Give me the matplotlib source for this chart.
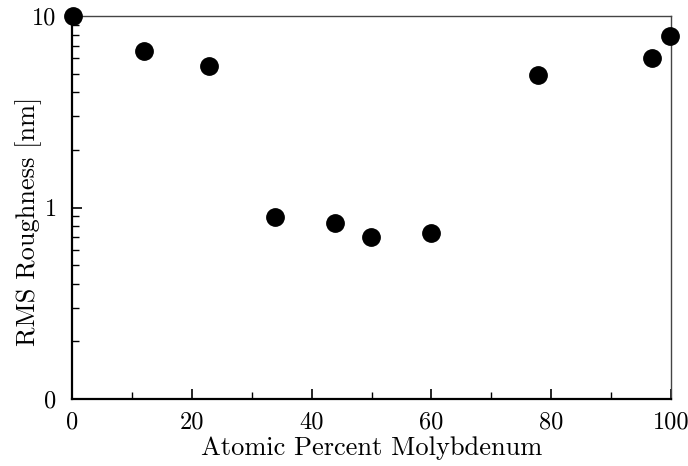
import matplotlib
matplotlib.use("Agg")
import matplotlib.pyplot as plt
import numpy as np
from matplotlib.ticker import FixedLocator, FixedFormatter, NullFormatter

plt.rcParams['font.family'] = ['cmr10', 'DejaVu Serif']
plt.rcParams['mathtext.fontset'] = 'cm'
plt.rcParams['axes.unicode_minus'] = False

mo_percent = [0.2, 12.0, 22.9, 33.9, 43.9, 49.9, 59.9, 77.8, 96.8, 99.8]
rms_nm = [10.0, 6.6, 5.45, 0.89, 0.825, 0.70, 0.74, 4.9, 6.0, 7.9]
y_tick_vals = [0.1, 1, 10]
y_tick_labels = ["0", "1", "10"]
x_tick_vals = [0, 20, 40, 60, 80, 100]

fig = plt.figure(figsize=(6.88, 4.66), dpi=100)
ax = fig.add_axes([72/688, 1-399/466, (671-72)/688, (399-16)/466])
ax.plot(mo_percent, rms_nm, 'o', color='black', markersize=12.5, clip_on=False, zorder=5)
ax.set_yscale('log')
ax.set_xlim(0, 100)
ax.set_ylim(0.1, 10)
ax.yaxis.set_major_locator(FixedLocator(y_tick_vals))
ax.yaxis.set_major_formatter(FixedFormatter(y_tick_labels))
ax.yaxis.set_minor_locator(FixedLocator([m*d for d in (0.1, 1) for m in range(2, 10)]))
ax.yaxis.set_minor_formatter(NullFormatter())
ax.xaxis.set_major_locator(FixedLocator(x_tick_vals))
ax.xaxis.set_minor_locator(FixedLocator([10, 30, 50, 70, 90]))
ax.tick_params(which='both', direction='in', top=False, right=False, labelsize=17.5, colors='black')
ax.tick_params(which='major', length=7, width=1.2)
ax.tick_params(which='minor', length=5, width=1.0)
ax.tick_params(axis='x', which='both', pad=9)
ax.tick_params(axis='y', which='both', pad=11)
for s in ('left', 'bottom'):
    ax.spines[s].set_linewidth(1.6)
    ax.spines[s].set_color('black')
for s in ('top', 'right'):
    ax.spines[s].set_linewidth(1.0)
    ax.spines[s].set_color('#444444')
ax.set_xlabel('Atomic Percent Molybdenum', fontsize=19)
ax.set_ylabel('RMS Roughness [nm]', fontsize=19)
ax.xaxis.set_label_coords(0.5, -0.098)
ax.yaxis.set_label_coords(-0.05, 0.465)
fig.savefig('out.png', dpi=100)
